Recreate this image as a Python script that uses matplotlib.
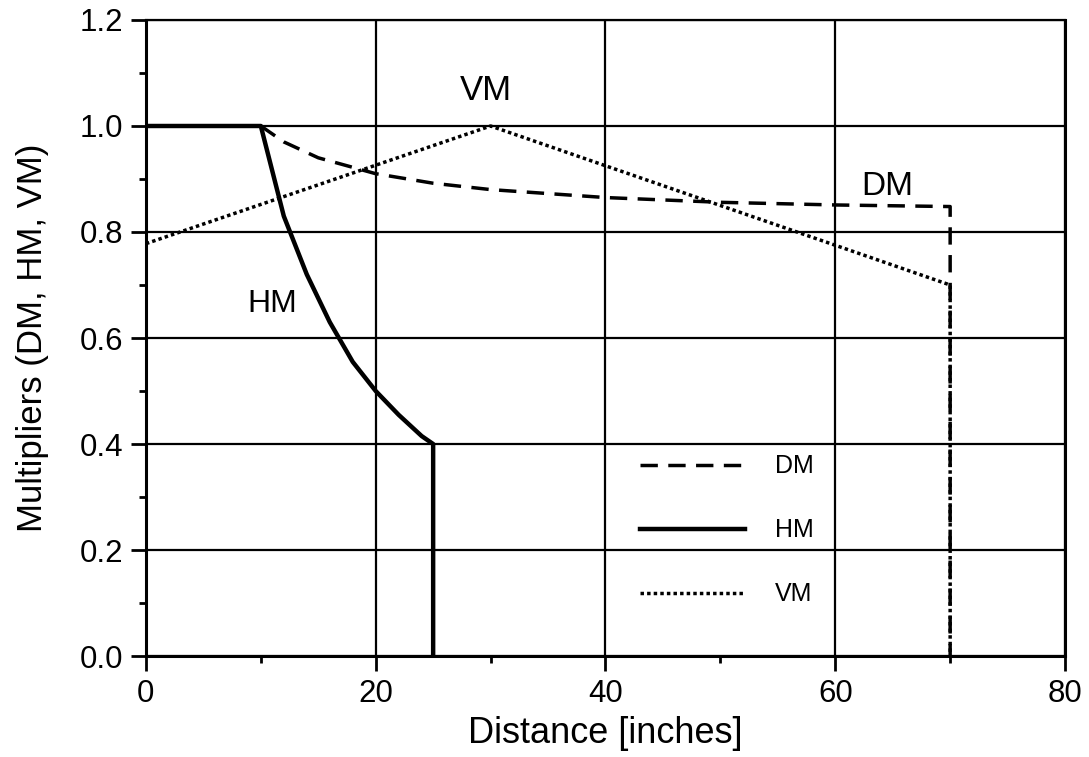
import matplotlib
matplotlib.use("Agg")
import matplotlib.pyplot as plt
from matplotlib.ticker import MultipleLocator

plt.rcParams['font.family'] = ['Liberation Sans', 'DejaVu Sans']

# Distance [inches] and multiplier values
hm_x = [0, 10, 12, 14, 16, 18, 20, 22, 24, 25, 25]
hm_y = [1.0, 1.0, 0.83, 0.72, 0.63, 0.555, 0.50, 0.455, 0.415, 0.40, 0.0]

dm_x = [10, 12, 15, 20, 25, 30, 40, 50, 60, 70, 70]
dm_y = [1.0, 0.97, 0.94, 0.91, 0.892, 0.88, 0.865, 0.856, 0.851, 0.848, 0.0]

vm_x = [0, 30, 70, 70]
vm_y = [0.778, 1.0, 0.70, 0.0]

fig = plt.figure(figsize=(10.89, 7.57), dpi=100)
ax = fig.add_axes([0.134, 0.1334, 0.844, 0.8402])

ax.plot(dm_x, dm_y, color='black', lw=2.5, ls=(0, (5, 3)), label='DM', zorder=3)
ax.plot(hm_x, hm_y, color='black', lw=3.2, ls='-', label='HM', zorder=4)
ax.plot(vm_x, vm_y, color='black', lw=2.5, ls=(0, (1, 0.9)), label='VM', zorder=3)

ax.text(29.6, 1.067, 'VM', fontsize=25, ha='center', va='center')
ax.text(64.5, 0.885, 'DM', fontsize=24, ha='center', va='center')
ax.text(11.0, 0.665, 'HM', fontsize=23, ha='center', va='center')

ax.set_xlim(0, 80)
ax.set_ylim(0, 1.2)
ax.xaxis.set_major_locator(MultipleLocator(20))
ax.xaxis.set_minor_locator(MultipleLocator(10))
ax.yaxis.set_major_locator(MultipleLocator(0.2))
ax.yaxis.set_minor_locator(MultipleLocator(0.1))
ax.yaxis.set_major_formatter(matplotlib.ticker.FormatStrFormatter('%.1f'))

ax.grid(True, which='major', color='black', lw=1.6)
ax.set_axisbelow(True)
for s in ax.spines.values():
    s.set_linewidth(2.2)
ax.spines['top'].set_linewidth(1.6)

ax.tick_params(which='major', direction='out', length=10.5, width=2, pad=6,
               labelsize=22.5, colors='black')
ax.tick_params(which='minor', direction='out', length=5, width=2)

ax.set_xlabel('Distance [inches]', fontsize=26, labelpad=5)
ax.set_ylabel('Multipliers (DM, HM, VM)', fontsize=25, labelpad=22)

ax.legend(loc='upper left', bbox_to_anchor=(0.5375, 0.317), frameon=False,
          fontsize=18, handlelength=4.2, handletextpad=1.2, labelspacing=1.6,
          borderpad=0, borderaxespad=0)

fig.savefig('out.png', dpi=100)
